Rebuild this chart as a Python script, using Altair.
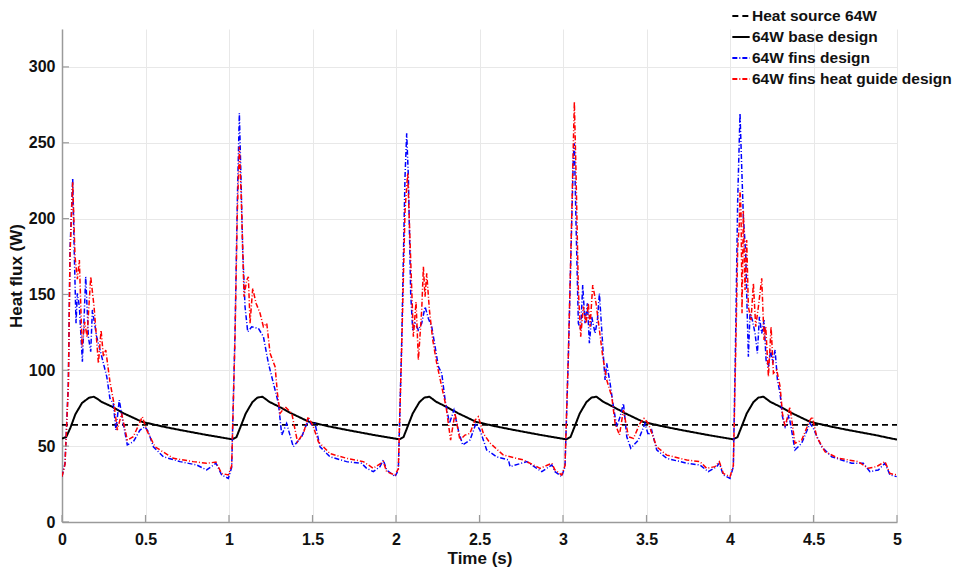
import altair as alt
import pandas as pd

series_names = ["Heat source 64W", "64W base design", "64W fins design", "64W fins heat guide design"]
series_colors = ["#000000", "#000000", "#0000ff", "#ff0000"]
series_dashes = [[6, 4], [1, 0], [5, 2, 1, 2], [5, 2, 1, 2]]

x_ticks = [0, 0.5, 1, 1.5, 2, 2.5, 3, 3.5, 4, 4.5, 5]
y_ticks = [0, 50, 100, 150, 200, 250, 300]

source_t = [0, 5]
source_v = [64, 64]

base_t = [0, 0.025, 0.05, 0.08, 0.12, 0.16, 0.19, 0.215, 0.235, 0.3, 0.37, 0.48, 0.6, 0.7, 0.87,
          1.02, 1.045, 1.07, 1.1, 1.14, 1.17, 1.2, 1.22, 1.24, 1.3, 1.37, 1.48, 1.6, 1.7, 1.87,
          2.02, 2.045, 2.07, 2.1, 2.14, 2.17, 2.2, 2.22, 2.24, 2.3, 2.37, 2.48, 2.6, 2.7, 2.87,
          3.02, 3.045, 3.07, 3.1, 3.14, 3.17, 3.2, 3.22, 3.24, 3.3, 3.37, 3.48, 3.6, 3.7, 3.87,
          4.02, 4.045, 4.07, 4.1, 4.14, 4.17, 4.2, 4.22, 4.24, 4.3, 4.37, 4.48, 4.6, 4.7, 4.87, 5.0]
base_v = [55, 56, 62, 71, 78.5, 81.8, 82.6, 81, 79.3, 76, 71.6, 66, 63, 60.8, 57.3,
          54.5, 56, 63, 71.5, 79, 82, 82.6, 81, 79.3, 76, 71.8, 66, 63, 60.8, 57.3,
          54.5, 56, 63, 71.5, 79, 82, 82.6, 81, 79.3, 76, 71.8, 66, 63, 60.8, 57.3,
          54.5, 56, 63, 71.5, 79, 82, 82.6, 81, 79.3, 76, 71.8, 66, 63, 60.8, 57.3,
          54.5, 56, 63, 71.5, 79, 82, 82.6, 81, 79.3, 76, 71.8, 66, 63, 60.8, 57.3, 54.3]

fins_t = [0, 0.018, 0.038, 0.048, 0.064, 0.074, 0.084, 0.092, 0.104, 0.122, 0.142, 0.158, 0.172, 0.182,
          0.208, 0.238, 0.268, 0.287, 0.307, 0.323, 0.343, 0.363, 0.391, 0.427, 0.467, 0.497, 0.517,
          0.547, 0.607, 0.707, 0.806, 0.866, 0.922, 0.956, 0.996,
          1.016, 1.036, 1.05, 1.062, 1.07, 1.082, 1.096, 1.112, 1.136, 1.176, 1.206, 1.236, 1.276, 1.296,
          1.316, 1.345, 1.385, 1.435, 1.475, 1.495, 1.515, 1.545, 1.605, 1.704, 1.794, 1.824, 1.864,
          1.904, 1.924, 1.944, 1.994,
          2.014, 2.034, 2.054, 2.064, 2.074, 2.088, 2.1, 2.114, 2.134, 2.154, 2.174, 2.194, 2.214, 2.234,
          2.254, 2.274, 2.294, 2.32, 2.347, 2.373, 2.399, 2.443, 2.479, 2.503, 2.543, 2.603, 2.673,
          2.683, 2.783, 2.843, 2.873, 2.933, 2.952, 2.992,
          3.012, 3.032, 3.052, 3.062, 3.068, 3.078, 3.092, 3.106, 3.118, 3.132, 3.146, 3.158, 3.172,
          3.192, 3.206, 3.218, 3.232, 3.242, 3.252, 3.262, 3.282, 3.302, 3.322, 3.342, 3.362, 3.382,
          3.406, 3.451, 3.491, 3.511, 3.531, 3.561, 3.621, 3.741, 3.82, 3.87, 3.92, 3.936, 3.96, 4.0,
          4.02, 4.034, 4.046, 4.06, 4.07, 4.08, 4.094, 4.102, 4.11, 4.12, 4.134, 4.15, 4.164, 4.176,
          4.19, 4.204, 4.216, 4.23, 4.244, 4.256, 4.27, 4.284, 4.3, 4.314, 4.33, 4.353, 4.389, 4.429,
          4.479, 4.499, 4.549, 4.609, 4.729, 4.798, 4.838, 4.888, 4.928, 4.958, 4.998]
fins_v = [30, 38.7, 91.4, 179.3, 226.5, 174.9, 131, 150.7, 142, 105.7, 161.7, 122, 112.3, 139.8,
          122, 109, 95.8, 81.5, 78.2, 60.6, 80.4, 67.2, 50.8, 52.9, 60.6, 62.8, 59.5,
          49.6, 43, 39.8, 37.6, 34.3, 38.7, 31, 28.8,
          36, 124, 212.3, 269.4, 234.2, 179.3, 141.9, 125.4, 128.7, 127.6, 122.2, 104.6, 87, 78.2,
          57.3, 65, 49.6, 56.2, 67.2, 64, 65, 49.6, 43, 39.8, 38.7, 35.4, 33.2,
          36.5, 40.9, 34.3, 29.9,
          34.3, 117.8, 227.6, 256.2, 227.6, 150.8, 126.6, 131, 126.6, 131, 141.9, 134.2, 128.7, 115.6,
          102.4, 98, 80.4, 65, 73.8, 60.6, 50.8, 54, 65, 60.6, 47.5, 43, 40.9,
          36.5, 39.8, 35.4, 33.2, 37.6, 33.2, 29.9,
          36.5, 109, 196.9, 240.8, 249.6, 196.9, 131, 126.6, 156.2, 131, 144.2, 117.8, 135.3,
          124.4, 133.1, 150.7, 126.6, 109, 93.6, 104.6, 91.4, 76, 62.8, 69.4, 78.2, 56.2,
          48.6, 54, 65, 57.3, 60.6, 47.5, 42, 38.7, 37.6, 33.2, 36.5, 38.7, 31, 28.8,
          36.5, 124.4, 212.3, 269.4, 234.2, 201.2, 177.1, 141.9, 109, 137.6, 133.1, 124.4, 111.2, 135.3,
          124.4, 133.1, 106.8, 102.4, 113.4, 104.6, 113.4, 93.6, 84.8, 69.4, 62.8, 70.5, 47.5, 51.9,
          65, 61.7, 49.6, 43, 38.7, 38.7, 33.2, 34.3, 38.7, 31, 29.9]

guide_t = [0, 0.018, 0.038, 0.048, 0.064, 0.078, 0.092, 0.104, 0.12, 0.136, 0.15, 0.172, 0.192, 0.218,
           0.234, 0.248, 0.262, 0.287, 0.311, 0.331, 0.357, 0.391, 0.427, 0.481, 0.507, 0.557, 0.667,
           0.786, 0.866, 0.922, 0.956, 0.996,
           1.016, 1.036, 1.05, 1.062, 1.074, 1.09, 1.106, 1.116, 1.126, 1.142, 1.162, 1.186, 1.206, 1.226,
           1.246, 1.276, 1.29, 1.306, 1.336, 1.376, 1.41, 1.445, 1.475, 1.505, 1.535, 1.605, 1.704, 1.804,
           1.864, 1.924, 1.944, 1.994,
           2.014, 2.034, 2.054, 2.064, 2.07, 2.088, 2.104, 2.12, 2.134, 2.154, 2.164, 2.174, 2.184, 2.2,
           2.22, 2.244, 2.274, 2.3, 2.327, 2.353, 2.383, 2.413, 2.443, 2.473, 2.493, 2.523, 2.563, 2.643,
           2.763, 2.863, 2.933, 2.952, 2.992,
           3.012, 3.032, 3.052, 3.062, 3.068, 3.078, 3.092, 3.106, 3.122, 3.138, 3.152, 3.162, 3.178,
           3.198, 3.218, 3.238, 3.262, 3.292, 3.312, 3.338, 3.362, 3.392, 3.422, 3.461, 3.485, 3.511,
           3.561, 3.621, 3.741, 3.82, 3.86, 3.91, 3.936, 3.96, 4.0,
           4.02, 4.034, 4.046, 4.056, 4.06, 4.066, 4.072, 4.08, 4.09, 4.1, 4.11, 4.126, 4.14, 4.154,
           4.17, 4.19, 4.204, 4.214, 4.23, 4.246, 4.26, 4.28, 4.3, 4.314, 4.33, 4.359, 4.389, 4.429,
           4.479, 4.493, 4.519, 4.569, 4.649, 4.768, 4.828, 4.878, 4.928, 4.958, 4.998]
guide_v = [30, 38, 90, 176, 224, 174.9, 160, 172.7, 115.6, 132, 122, 161.7, 142, 104.6,
           126.4, 109, 113.4, 92.5, 78.2, 60.6, 71.6, 54, 56.2, 69.4, 60.6, 49.6, 42,
           39.8, 38.7, 39.5, 32, 31,
           37, 122, 205, 247.4, 212, 148.5, 159.5, 161.7, 131, 154, 144.2, 137.6, 128.7, 131,
           111.2, 102.4, 84.8, 71.6, 76, 71.6, 52.9, 58.4, 69.4, 62.8, 52.9, 45.1, 42, 39.8,
           35.4, 39.8, 33.2, 31,
           35, 115, 205, 221, 229.9, 172.7, 122.2, 145.2, 106.8, 139.8, 168.3, 148.5, 163.9, 139.8,
           120, 104.6, 89.2, 76, 54, 71.6, 54, 57.3, 58.4, 67.2, 69.4, 58.4, 52, 44.1,
           40.9, 35.4, 38.7, 34.3, 31,
           37, 110, 200, 250, 277, 229.9, 152.9, 122.2, 142, 131, 144.2, 128.7, 156.2,
           144.2, 126.6, 109, 93.6, 82.6, 65, 57.3, 73.8, 56.2, 55.1, 65, 68.3, 65,
           49.6, 44.1, 40.9, 39.8, 35.4, 36.5, 39.8, 32, 29.9,
           37, 110, 180, 196.9, 218.9, 205, 137.6, 205, 152.9, 185.9, 141.9, 133.1, 157.3, 128.7,
           141.9, 160.6, 120, 128.7, 95.8, 128.7, 98, 100.2, 89.2, 71.6, 62.8, 76, 51.9, 54,
           67.2, 69.4, 56.2, 46.3, 42, 39.8, 35.4, 36.5, 39.8, 32, 31]


def frame(name, ts, vs):
    return pd.DataFrame({"series": name, "t": ts, "v": vs})


FONT = "Liberation Sans"
W, H = 835, 493

x_enc = alt.X("t:Q", scale=alt.Scale(domain=[0, 5], nice=False, zero=False),
              axis=alt.Axis(values=x_ticks, format="~g", title="Time (s)", labelPadding=9,
                            labelFlush=False, titlePadding=3))
y_enc = alt.Y("v:Q", scale=alt.Scale(domain=[0, 325], nice=False, zero=True),
              axis=alt.Axis(values=y_ticks, title="Heat flux (W)", labelPadding=7,
                            labelFlush=False, titlePadding=3))
legend_common = dict(title=None, orient="none", legendX=669, legendY=-23)
color_enc = alt.Color("series:N", sort=series_names,
                      scale=alt.Scale(domain=series_names, range=series_colors),
                      legend=alt.Legend(symbolType="stroke", symbolSize=300, symbolStrokeWidth=2,
                                        labelFont=FONT, labelFontWeight="bold", labelFontSize=15.5,
                                        labelColor="#111111", rowPadding=2, labelOffset=1,
                                        labelLimit=400, **legend_common))
dash_enc = alt.StrokeDash("series:N", sort=series_names,
                          scale=alt.Scale(domain=series_names, range=series_dashes),
                          legend=alt.Legend(**legend_common))


def series_layer(name, ts, vs, width):
    return alt.Chart(frame(name, ts, vs)).mark_line(strokeWidth=width, clip=True).encode(
        x=x_enc, y=y_enc, color=color_enc, strokeDash=dash_enc, order="t:Q")


ytick_layer = alt.Chart(pd.DataFrame({"v": y_ticks})).mark_rule(color="#9a9a9a", strokeWidth=1.2).encode(
    y=y_enc, x=alt.value(0), x2=alt.value(7))
xtick_layer = alt.Chart(pd.DataFrame({"t": x_ticks})).mark_rule(color="#9a9a9a", strokeWidth=1.2).encode(
    x=x_enc, y=alt.value(H), y2=alt.value(H - 7))

chart = alt.layer(
    series_layer(series_names[0], source_t, source_v, 1.6),
    series_layer(series_names[1], base_t, base_v, 2),
    series_layer(series_names[2], fins_t, fins_v, 1.5),
    series_layer(series_names[3], guide_t, guide_v, 1.5),
    ytick_layer,
    xtick_layer,
).properties(
    width=W, height=H,
    autosize=alt.AutoSizeParams(type="none"),
    padding={"left": 54, "top": 21, "right": 60, "bottom": 48},
).configure_view(stroke=None).configure_axis(
    domainColor="#9a9a9a", domainWidth=1.5, ticks=False,
    grid=True, gridColor="#e8e8e8", gridWidth=1,
    labelFont=FONT, labelFontWeight="bold", labelFontSize=16, labelColor="#111111",
    titleFont=FONT, titleFontWeight="bold", titleFontSize=17, titleColor="#111111",
).configure_axisY(labelBaseline="middle")

chart.save("out.html", embed_options={"renderer": "svg", "actions": False})
